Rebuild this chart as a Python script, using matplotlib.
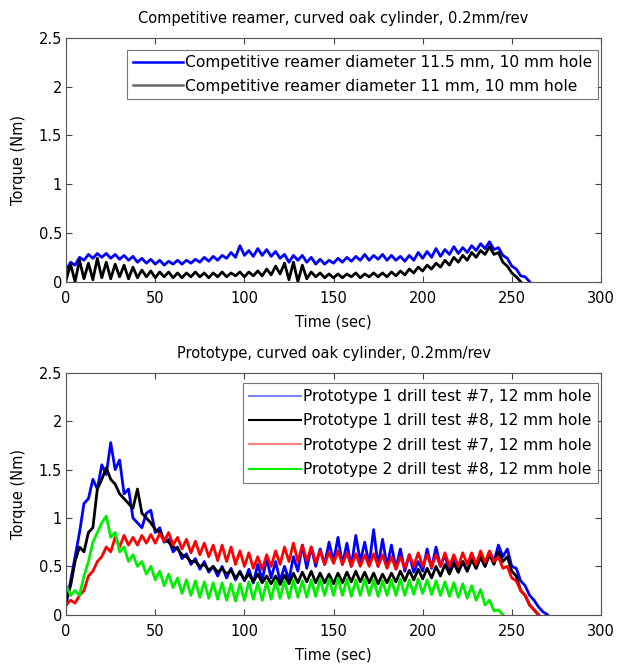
import numpy as np
import matplotlib.pyplot as plt
from matplotlib.lines import Line2D

plt.rcParams['font.family'] = ['DejaVu Sans']

# sample spacing of the logged torque (sec)
dt = 2.5

# --- competitive reamer (top) ---
reamer_115 = [0.12, 0.2, 0.17, 0.25, 0.22, 0.28, 0.24, 0.29, 0.25, 0.29, 0.24, 0.28, 0.23, 0.27, 0.22, 0.26,
              0.2, 0.24, 0.19, 0.23, 0.18, 0.22, 0.17, 0.21, 0.18, 0.22, 0.18, 0.22, 0.19, 0.23, 0.2, 0.25,
              0.21, 0.26, 0.22, 0.27, 0.24, 0.3, 0.25, 0.37, 0.27, 0.32, 0.26, 0.34, 0.27, 0.33, 0.26, 0.31,
              0.24, 0.28, 0.2, 0.27, 0.22, 0.27, 0.2, 0.25, 0.18, 0.23, 0.18, 0.22, 0.19, 0.24, 0.2, 0.25,
              0.21, 0.26, 0.22, 0.28, 0.22, 0.27, 0.23, 0.28, 0.22, 0.27, 0.22, 0.26, 0.21, 0.27, 0.22, 0.3,
              0.24, 0.31, 0.25, 0.34, 0.26, 0.33, 0.28, 0.36, 0.29, 0.35, 0.3, 0.37, 0.32, 0.39, 0.34, 0.41,
              0.33, 0.35, 0.27, 0.24, 0.16, 0.13, 0.06, 0.05, 0.0]
reamer_11 = [0.02, 0.18, 0.0, 0.22, 0.03, 0.19, 0.02, 0.24, 0.04, 0.2, 0.03, 0.18, 0.05, 0.17, 0.03, 0.15,
             0.04, 0.12, 0.05, 0.11, 0.04, 0.1, 0.05, 0.1, 0.04, 0.09, 0.04, 0.09, 0.05, 0.1, 0.05, 0.09,
             0.04, 0.09, 0.05, 0.1, 0.05, 0.09, 0.06, 0.1, 0.05, 0.1, 0.06, 0.11, 0.06, 0.13, 0.07, 0.16,
             0.08, 0.19, 0.02, 0.2, 0.0, 0.17, 0.03, 0.1, 0.05, 0.09, 0.04, 0.08, 0.04, 0.08, 0.04, 0.08,
             0.05, 0.09, 0.04, 0.08, 0.05, 0.09, 0.05, 0.09, 0.05, 0.1, 0.06, 0.11, 0.07, 0.13, 0.09, 0.15,
             0.11, 0.17, 0.13, 0.19, 0.15, 0.22, 0.17, 0.25, 0.2, 0.27, 0.22, 0.3, 0.25, 0.32, 0.28, 0.36,
             0.28, 0.3, 0.2, 0.16, 0.09, 0.05, 0.0]

# --- prototypes (bottom) ---
p1_t7 = [0.1, 0.35, 0.6, 0.85, 1.15, 1.2, 1.4, 1.3, 1.55, 1.45, 1.78, 1.5, 1.6, 1.25, 1.3, 1.0,
         0.95, 0.9, 1.05, 1.08, 0.85, 0.9, 0.75, 0.78, 0.65, 0.7, 0.58, 0.63, 0.52, 0.58, 0.47, 0.55,
         0.44, 0.5, 0.4, 0.5, 0.38, 0.48, 0.36, 0.45, 0.35, 0.47, 0.33, 0.52, 0.36, 0.58, 0.38, 0.55,
         0.35, 0.5, 0.36, 0.6, 0.45, 0.72, 0.48, 0.7, 0.5, 0.68, 0.52, 0.75, 0.55, 0.8, 0.52, 0.74,
         0.5, 0.82, 0.55, 0.75, 0.52, 0.88, 0.5, 0.78, 0.5, 0.72, 0.48, 0.68, 0.45, 0.62, 0.44, 0.55,
         0.45, 0.68, 0.48, 0.7, 0.5, 0.62, 0.45, 0.58, 0.44, 0.55, 0.45, 0.58, 0.48, 0.6, 0.5, 0.65,
         0.55, 0.72, 0.6, 0.68, 0.5, 0.48, 0.35, 0.3, 0.2, 0.15, 0.08, 0.03, 0.0]
p1_t8 = [0.15, 0.3, 0.55, 0.7, 0.65, 0.85, 0.9, 1.3, 1.4, 1.52, 1.4, 1.35, 1.25, 1.2, 1.15, 1.1,
         1.3, 1.05, 1.0, 0.95, 0.88, 0.85, 0.78, 0.75, 0.7, 0.68, 0.62, 0.6, 0.55, 0.55, 0.5, 0.52,
         0.46, 0.5, 0.44, 0.48, 0.42, 0.46, 0.38, 0.44, 0.36, 0.42, 0.34, 0.42, 0.33, 0.4, 0.32, 0.4,
         0.31, 0.41, 0.32, 0.43, 0.33, 0.44, 0.34, 0.45, 0.33, 0.43, 0.33, 0.42, 0.32, 0.43, 0.33, 0.44,
         0.34, 0.45, 0.34, 0.44, 0.33, 0.43, 0.32, 0.42, 0.33, 0.43, 0.34, 0.45, 0.35, 0.46, 0.36, 0.47,
         0.37, 0.48, 0.38, 0.5, 0.4, 0.52, 0.42, 0.53, 0.44, 0.55, 0.45, 0.57, 0.48, 0.6, 0.5, 0.62,
         0.52, 0.65, 0.55, 0.6, 0.45, 0.4, 0.25, 0.2, 0.1, 0.05, 0.0]
p2_t7 = [0.1, 0.15, 0.12, 0.2, 0.25, 0.4, 0.45, 0.55, 0.6, 0.7, 0.65, 0.8, 0.7, 0.82, 0.72, 0.8,
         0.72, 0.82, 0.74, 0.83, 0.74, 0.84, 0.76, 0.85, 0.72, 0.8, 0.68, 0.78, 0.64, 0.76, 0.62, 0.74,
         0.6, 0.72, 0.56, 0.72, 0.55, 0.7, 0.52, 0.66, 0.5, 0.64, 0.48, 0.6, 0.47, 0.62, 0.5, 0.66,
         0.52, 0.7, 0.55, 0.74, 0.55, 0.72, 0.56, 0.7, 0.54, 0.66, 0.52, 0.65, 0.53, 0.66, 0.52, 0.64,
         0.5, 0.63, 0.5, 0.62, 0.5, 0.63, 0.5, 0.62, 0.48, 0.6, 0.47, 0.6, 0.48, 0.62, 0.5, 0.64,
         0.5, 0.62, 0.49, 0.62, 0.5, 0.64, 0.5, 0.62, 0.5, 0.64, 0.52, 0.64, 0.52, 0.66, 0.54, 0.66,
         0.55, 0.6, 0.48, 0.5, 0.38, 0.35, 0.25, 0.2, 0.1, 0.05, 0.0]
p2_t8 = [0.3, 0.2, 0.25, 0.2, 0.4, 0.55, 0.75, 0.85, 0.95, 1.02, 0.8, 0.85, 0.65, 0.7, 0.55, 0.62,
         0.5, 0.55, 0.42, 0.5, 0.36, 0.45, 0.3, 0.42, 0.28, 0.38, 0.22, 0.36, 0.2, 0.35, 0.18, 0.34,
         0.17, 0.33, 0.16, 0.33, 0.15, 0.32, 0.14, 0.32, 0.15, 0.34, 0.16, 0.33, 0.15, 0.34, 0.16, 0.35,
         0.17, 0.35, 0.17, 0.36, 0.18, 0.35, 0.18, 0.36, 0.19, 0.37, 0.2, 0.37, 0.2, 0.38, 0.2, 0.37,
         0.19, 0.36, 0.2, 0.37, 0.2, 0.36, 0.19, 0.35, 0.2, 0.36, 0.2, 0.37, 0.2, 0.36, 0.21, 0.37,
         0.22, 0.36, 0.21, 0.35, 0.2, 0.34, 0.19, 0.33, 0.18, 0.32, 0.17, 0.3, 0.15, 0.26, 0.1, 0.15,
         0.04, 0.05, 0.0]

top_labels = ['Competitive reamer diameter 11.5 mm, 10 mm hole',
              'Competitive reamer diameter 11 mm, 10 mm hole']
bot_labels = ['Prototype 1 drill test #7, 12 mm hole',
              'Prototype 1 drill test #8, 12 mm hole',
              'Prototype 2 drill test #7, 12 mm hole',
              'Prototype 2 drill test #8, 12 mm hole']

xticks = [0, 50, 100, 150, 200, 250, 300]
yticks = [0, 0.5, 1, 1.5, 2, 2.5]
fs = 10.5
leg_fs = 11.2


def times(v):
    return np.arange(len(v)) * dt


def style(ax, title):
    ax.set_xlim(0, 300)
    ax.set_ylim(0, 2.5)
    ax.set_xticks(xticks)
    ax.set_yticks(yticks)
    ax.set_yticklabels(['0', '0.5', '1', '1.5', '2', '2.5'])
    ax.tick_params(direction='in', top=True, right=True, labelsize=fs, length=4, color='#444')
    ax.tick_params(axis='x', pad=7)
    ax.tick_params(axis='y', pad=3)
    for s in ax.spines.values():
        s.set_color('#555')
        s.set_linewidth(0.8)
    ax.set_title(title, fontsize=fs, pad=11)
    ax.set_xlabel('Time (sec)', fontsize=fs, labelpad=6)
    ax.set_ylabel('Torque (Nm)', fontsize=fs, labelpad=9)


fig = plt.figure(figsize=(6.24, 6.66), dpi=100)
ax1 = fig.add_axes([0.106, 0.577, 0.857, 0.366])
ax2 = fig.add_axes([0.106, 0.077, 0.857, 0.363])

ax1.plot(times(reamer_115), reamer_115, color='#0000ff', lw=2)
ax1.plot(times(reamer_11), reamer_11, color='black', lw=2)
style(ax1, 'Competitive reamer, curved oak cylinder, 0.2mm/rev')
h1 = [Line2D([], [], color='#0000ff', lw=1.8), Line2D([], [], color='#666666', lw=1.8)]
leg1 = ax1.legend(h1, top_labels, loc='upper right', fontsize=leg_fs, handlelength=3.2,
                  handletextpad=0.15, borderpad=0.35, labelspacing=0.55, fancybox=False,
                  borderaxespad=0, bbox_to_anchor=(0.994, 0.951))
leg1.get_frame().set_edgecolor('#555')
leg1.get_frame().set_linewidth(0.8)

cols = ['#0000ff', 'black', '#ff0000', '#00ee00']
for v, c in zip([p1_t7, p1_t8, p2_t7, p2_t8], cols):
    ax2.plot(times(v), v, color=c, lw=2)
style(ax2, 'Prototype, curved oak cylinder, 0.2mm/rev')
leg_cols = ['#7f7fff', 'black', '#ff7f7f', '#00ee00']
h2 = [Line2D([], [], color=c, lw=1.5) for c in leg_cols]
leg2 = ax2.legend(h2, bot_labels, loc='upper right', fontsize=leg_fs, handlelength=3.3,
                  handletextpad=0.15, borderpad=0.4, labelspacing=0.6, fancybox=False,
                  borderaxespad=0, bbox_to_anchor=(0.994, 0.959))
leg2.get_frame().set_edgecolor('#555')
leg2.get_frame().set_linewidth(0.8)

fig.savefig('out.png', dpi=100)
